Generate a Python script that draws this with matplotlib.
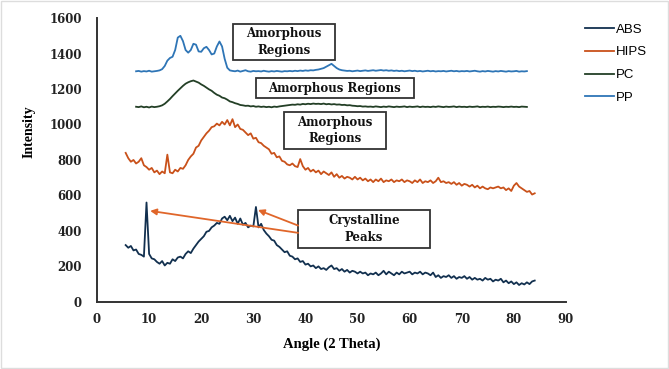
import numpy as np
import matplotlib
matplotlib.use("Agg")
import matplotlib.pyplot as plt
from matplotlib.patches import Rectangle

# ---------------- data ----------------
abs_start = 5.5
abs_y = [320, 305, 315, 290, 295, 270, 265, 255, 560, 270, 245, 240, 225, 215, 230, 205, 220,
         215, 240, 230, 250, 255, 245, 270, 285, 275, 300, 320, 340, 355, 370, 395, 400, 420, 430,
         445, 440, 470, 480, 460, 485, 455, 475, 440, 470, 435, 445, 420, 430, 425, 535, 420, 440,
         405, 385, 370, 350, 345, 320, 310, 295, 280, 285, 260, 255, 240, 245, 225, 230, 210, 215,
         200, 205, 190, 200, 185, 190, 180, 195, 205, 185, 190, 175, 185, 170, 180, 165, 175, 170,
         160, 170, 160, 165, 150, 160, 155, 165, 150, 160, 175, 155, 170, 160, 150, 165, 155, 170,
         160, 165, 170, 155, 165, 160, 170, 155, 165, 160, 150, 165, 140, 150, 135, 145, 140, 150,
         135, 145, 130, 140, 135, 145, 130, 140, 125, 135, 125, 130, 120, 135, 125, 130, 115, 125,
         120, 130, 110, 120, 105, 115, 100, 110, 95, 105, 98, 110, 100, 115, 120]

hips_start = 5.5
hips_y = [840, 810, 790, 800, 780, 790, 810, 770, 760, 745, 755, 730, 740, 720, 735, 725, 830, 730,
          725, 745, 735, 755, 750, 770, 800, 820, 835, 870, 880, 910, 930, 950, 965, 985, 990, 1005,
          995, 1015, 1000, 1025, 995, 1030, 985, 1000, 975, 970, 955, 940, 950, 920, 925, 900, 895,
          880, 870, 860, 835, 840, 815, 820, 795, 790, 775, 770, 780, 765, 760, 805, 765, 745, 755,
          735, 745, 730, 740, 720, 735, 725, 715, 730, 705, 720, 700, 710, 695, 705, 700, 690, 705,
          690, 700, 685, 695, 680, 690, 675, 690, 680, 695, 675, 685, 680, 690, 675, 685, 680, 690,
          675, 685, 680, 670, 685, 675, 690, 670, 680, 675, 685, 670, 680, 700, 675, 680, 670, 675,
          665, 675, 660, 670, 655, 665, 660, 650, 660, 645, 655, 640, 650, 640, 635, 645, 640, 645,
          650, 640, 645, 630, 640, 625, 655, 670, 650, 640, 630, 620, 625, 605, 612]

pc_start = 7.5
pc_y = [1100, 1098, 1102, 1097, 1100, 1096, 1101, 1098, 1100, 1103, 1108, 1117, 1130, 1144, 1160,
        1175, 1190, 1204, 1218, 1230, 1238, 1244, 1248, 1242, 1236, 1226, 1218, 1208, 1198, 1190,
        1178, 1168, 1162, 1152, 1148, 1140, 1130, 1126, 1120, 1116, 1110, 1108, 1105, 1106, 1102,
        1104, 1100, 1102, 1099, 1101, 1098, 1100, 1097, 1101, 1099, 1102, 1104, 1106, 1108, 1110,
        1112, 1111, 1114, 1112, 1116, 1114, 1117, 1115, 1118, 1116, 1117, 1115, 1118, 1114, 1116,
        1113, 1115, 1112, 1113, 1110, 1111, 1108, 1109, 1106, 1105, 1103, 1104, 1101, 1102, 1100,
        1101, 1099, 1102, 1100, 1098, 1101, 1099, 1102, 1100, 1098, 1101, 1099, 1100, 1102, 1098,
        1101, 1099, 1100, 1102, 1098, 1101, 1099, 1100, 1098, 1101, 1099, 1102, 1100, 1098, 1101,
        1099, 1100, 1102, 1098, 1101, 1099, 1100, 1098, 1101, 1099, 1100, 1102, 1098, 1100, 1099,
        1101, 1098, 1100, 1099, 1101, 1100, 1098, 1100, 1099, 1101, 1099, 1100, 1098, 1101, 1100,
        1099]

pp_start = 7.5
pp_y = [1300, 1302, 1298, 1301, 1299, 1303, 1298, 1300, 1302, 1305, 1312, 1330, 1360, 1375, 1382,
        1420, 1490, 1500, 1470, 1420, 1405, 1420, 1455, 1450, 1412, 1410, 1430, 1438, 1420, 1395,
        1400, 1440, 1468, 1440, 1370, 1320, 1305, 1302, 1300, 1304, 1298, 1302, 1306, 1300, 1298,
        1302, 1300, 1301, 1299, 1303, 1300, 1298, 1301, 1299, 1302, 1300, 1298, 1301, 1300, 1302,
        1300, 1303, 1301, 1304, 1302, 1305, 1303, 1306, 1305, 1308, 1310, 1314, 1318, 1326, 1334,
        1342, 1330, 1318, 1310, 1306, 1304, 1302, 1303, 1300, 1302, 1304, 1301, 1303, 1305, 1302,
        1304, 1306, 1303, 1305, 1307, 1304, 1306, 1303, 1305, 1302, 1304, 1301, 1303, 1300, 1302,
        1304, 1301, 1303, 1300, 1302, 1299, 1301, 1303, 1300, 1302, 1299, 1301, 1300, 1302, 1299,
        1301, 1303, 1300, 1302, 1299, 1301, 1300, 1302, 1299, 1301, 1303, 1300, 1298, 1301, 1299,
        1302, 1300, 1298, 1301, 1299, 1302, 1300, 1298, 1301, 1299, 1300, 1302, 1298, 1300, 1299,
        1301]

series = [
    ("ABS", abs_start, abs_y, "#12304F"),
    ("HIPS", hips_start, hips_y, "#C9511A"),
    ("PC", pc_start, pc_y, "#233F26"),
    ("PP", pp_start, pp_y, "#2E75B6"),
]

x_ticks = [0, 10, 20, 30, 40, 50, 60, 70, 80, 90]
y_ticks = [0, 200, 400, 600, 800, 1000, 1200, 1400, 1600]

# annotation boxes: (text, x0, x1, y0, y1)
boxes = [
    ("Amorphous\nRegions", 26.1, 45.7, 1363, 1566),
    ("Amorphous Regions", 30.5, 60.8, 1149, 1262),
    ("Amorphous\nRegions", 35.9, 55.5, 862, 1070),
    ("Crystalline\nPeaks", 38.6, 63.9, 304, 518),
]
# arrows: (tail x, tail y, head x, head y)
arrows = [
    (38.6, 389, 10.2, 513),
    (38.6, 430, 30.9, 518),
]

# ---------------- plot ----------------
fig = plt.figure(figsize=(6.69, 3.69), dpi=100)
ax = fig.add_axes([0.145, 0.182, 0.701, 0.769])

for name, start, ys, col in series:
    xs = start + 0.5 * np.arange(len(ys))
    ax.plot(xs, ys, color=col, lw=1.3, label=name)

ax.set_xlim(0, 90)
ax.set_ylim(0, 1600)
ax.set_xticks(x_ticks)
ax.set_yticks(y_ticks)
for s in ["top", "right"]:
    ax.spines[s].set_visible(False)
for s in ["left", "bottom"]:
    ax.spines[s].set_linewidth(1.4)
    ax.spines[s].set_color("#333333")
ax.tick_params(axis="y", length=0, pad=11)
ax.tick_params(axis="x", length=0, pad=8)
for lab in ax.get_xticklabels() + ax.get_yticklabels():
    lab.set_fontfamily("DejaVu Serif")
    lab.set_fontweight("bold")
    lab.set_fontsize(8.5)
    lab.set_color("#222222")

ax.set_xlabel("Angle (2 Theta)", fontfamily="Liberation Serif", fontweight="bold",
              fontsize=10.5, labelpad=8)
ax.set_ylabel("Intensity", fontfamily="Liberation Serif", fontweight="bold",
              fontsize=10)
ax.yaxis.set_label_coords(-0.132, 0.60)

for txt, x0, x1, y0, y1 in boxes:
    ax.add_patch(Rectangle((x0, y0), x1 - x0, y1 - y0, fc="white", ec="#333333",
                           lw=1.3, zorder=5))
    ax.text((x0 + x1) / 2, (y0 + y1) / 2, txt, ha="center", va="center",
            fontfamily="DejaVu Serif", fontweight="bold", fontsize=8.5,
            linespacing=1.35, zorder=6, color="#111111")

for tx, ty, hx, hy in arrows:
    ax.annotate("", xy=(hx, hy), xytext=(tx, ty),
                arrowprops=dict(arrowstyle="-|>", color="#E0662A", lw=1.3,
                                mutation_scale=9, shrinkA=0, shrinkB=0),
                zorder=7)

leg = ax.legend(loc="upper left", bbox_to_anchor=(1.03, 1.0), frameon=False,
                prop={"family": "Liberation Sans", "size": 9.5}, handlelength=2.2,
                handletextpad=0.1, labelspacing=0.8, borderaxespad=0)

fig.patches.append(Rectangle((0.001, 0.002), 0.998, 0.996, transform=fig.transFigure,
                             fill=False, ec="#DDDDDD", lw=1.0))

fig.savefig("out.png", dpi=100)
